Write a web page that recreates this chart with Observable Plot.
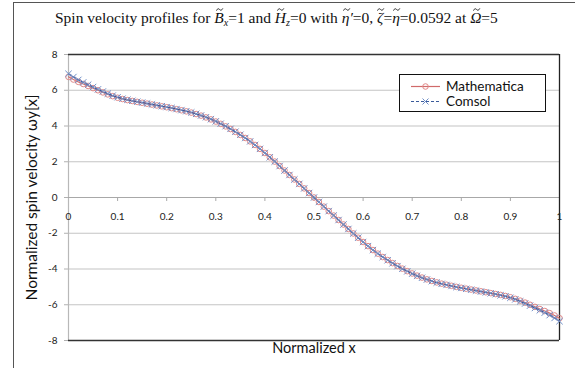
<!DOCTYPE html>
<html><head><meta charset="utf-8">
<script src="https://cdn.jsdelivr.net/npm/d3@7"></script>
<script src="https://cdn.jsdelivr.net/npm/@observablehq/plot@0.6"></script>
<style>
body{margin:0;background:#fff;}
#wrap{position:relative;width:575px;height:368px;overflow:hidden;font-family:Lato,"Open Sans",sans-serif;}
#frameL{position:absolute;left:13px;top:2px;width:600px;height:400px;border-left:1px solid #555;border-top:1px solid #555;}
#title{position:absolute;left:55px;top:9px;text-align:left;font-family:"Liberation Serif",serif;font-size:15.5px;color:#111;white-space:nowrap;}
#title i{font-style:italic;}
#title sub{font-size:10px;vertical-align:-3px;}
.acc{position:relative;display:inline-block;}
.acc svg{position:absolute;left:50%;margin-left:-3px;top:-1px;overflow:visible;}
#chart{position:absolute;left:0;top:0;}
#legend{position:absolute;left:399px;top:74px;width:145px;height:36px;border:1px solid #111;background:#fff;font-size:13.5px;color:#111;}
#legend > svg{position:absolute;left:0;top:0;}
#legend .t{position:absolute;left:46px;line-height:13px;}
</style></head>
<body>
<div id="wrap">
  <div id="frameL"></div>
  <div id="chart"></div>
  <div id="title">Spin velocity profiles for <i class="acc">B</i><sub><i>x</i></sub>=1 and <i class="acc">H</i><sub><i>z</i></sub>=0 with <i class="acc">η</i><i>′</i>=0, <i class="acc">ζ</i>=<i class="acc">η</i>=0.0592 at <i class="acc">Ω</i>=5</div>
  <div id="legend">
    <svg width="145" height="36">
      <line x1="11" x2="40" y1="11.5" y2="11.5" stroke="#d06a6a" stroke-width="1.2"/>
      <circle cx="25.5" cy="11.5" r="2.8" fill="none" stroke="#e08888"/>
      <line x1="11" x2="40" y1="26.5" y2="26.5" stroke="#3a5a9a" stroke-width="1.2" stroke-dasharray="3,2"/>
      <path d="M22.5,23.5L28.5,29.5M28.5,23.5L22.5,29.5" stroke="#6f8fc8"/>
    </svg>
    <div class="t" style="top:5px">Mathematica</div>
    <div class="t" style="top:20px">Comsol</div>
  </div>
</div>
<script>
// tilde accents drawn as small paths above letters
document.querySelectorAll("#title .acc").forEach(el => {
  const s = document.createElementNS("http://www.w3.org/2000/svg", "svg");
  s.setAttribute("width", "7"); s.setAttribute("height", "3");
  s.innerHTML = '<path d="M0.5,2.6C1.5,0.2 3,0.6 3.6,1.5C4.2,2.4 5.6,2.8 6.8,0.4" fill="none" stroke="#111" stroke-width="0.9"/>';
  el.appendChild(s);
});

const xGrid = d3.range(0, 101).map(i => i / 100);
const mathematica = [
  6.75, 6.60, 6.47, 6.35, 6.24, 6.12, 6.00, 5.88, 5.77, 5.67,
  5.58, 5.51, 5.45, 5.40, 5.35, 5.30, 5.25, 5.20, 5.15, 5.10,
  5.05, 5.00, 4.94, 4.88, 4.82, 4.75, 4.67, 4.58, 4.48, 4.37,
  4.25, 4.12, 3.98, 3.83, 3.67, 3.50, 3.33, 3.14, 2.94, 2.72,
  2.49, 2.25, 2.01, 1.76, 1.51, 1.26, 1.01, 0.76, 0.51, 0.25,
  0.00,
  -0.25, -0.51, -0.76, -1.01, -1.26, -1.51, -1.76, -2.01, -2.25, -2.49,
  -2.72, -2.94, -3.14, -3.33, -3.50, -3.67, -3.83, -3.98, -4.12, -4.25,
  -4.37, -4.48, -4.58, -4.67, -4.75, -4.82, -4.88, -4.94, -5.00, -5.05,
  -5.10, -5.15, -5.20, -5.25, -5.30, -5.35, -5.40, -5.45, -5.51, -5.58,
  -5.67, -5.77, -5.88, -6.00, -6.12, -6.24, -6.35, -6.47, -6.60, -6.75
];
const comsol = [
  6.92, 6.74, 6.58, 6.44, 6.31, 6.18, 6.05, 5.93, 5.81, 5.70,
  5.61, 5.53, 5.47, 5.41, 5.36, 5.31, 5.26, 5.21, 5.16, 5.11,
  5.06, 5.01, 4.95, 4.89, 4.83, 4.76, 4.68, 4.59, 4.49, 4.38,
  4.26, 4.13, 3.99, 3.84, 3.68, 3.51, 3.33, 3.14, 2.94, 2.72,
  2.49, 2.25, 2.01, 1.76, 1.51, 1.26, 1.01, 0.76, 0.51, 0.25,
  0.00,
  -0.25, -0.51, -0.76, -1.01, -1.26, -1.51, -1.76, -2.01, -2.25, -2.49,
  -2.72, -2.94, -3.14, -3.33, -3.51, -3.68, -3.84, -3.99, -4.13, -4.26,
  -4.38, -4.49, -4.59, -4.68, -4.76, -4.83, -4.89, -4.95, -5.01, -5.06,
  -5.11, -5.16, -5.21, -5.26, -5.31, -5.36, -5.41, -5.47, -5.53, -5.61,
  -5.70, -5.81, -5.93, -6.05, -6.18, -6.31, -6.44, -6.58, -6.74, -6.92
];
const xTicks = [0, 0.1, 0.2, 0.3, 0.4, 0.5, 0.6, 0.7, 0.8, 0.9, 1];
const yTicks = [-8, -6, -4, -2, 0, 2, 4, 6, 8];
const xLabel = "Normalized x";
const yLabel = "Normalized spin velocity ωy[x]";

const mData = xGrid.map((x, i) => ({x, y: mathematica[i]}));
const cData = xGrid.map((x, i) => ({x, y: comsol[i]}));

const chart = Plot.plot({
  width: 575, height: 368,
  marginLeft: 68, marginRight: 16, marginTop: 54, marginBottom: 28,
  x: {domain: [0, 1], axis: null},
  y: {domain: [-8, 8]},
  style: {fontFamily: "Lato, 'Open Sans', sans-serif", fontSize: "10px", color: "#222", background: "transparent"},
  marks: [
    Plot.ruleY(yTicks.filter(t => Math.abs(t) !== 8 && t !== 0), {stroke: "#c4c4c4", strokeWidth: 1.2}),
    Plot.axisY({ticks: yTicks, tickSize: 4, tickPadding: 7, stroke: "#b0b0b0", fill: "#222", label: null, tickFormat: d => String(d)}),
    Plot.ruleX([0], {stroke: "#b8b8b8", strokeWidth: 1.2}),
    Plot.ruleY([0], {stroke: "#a8a8a8", strokeWidth: 1.2}),
    Plot.ruleX(xTicks.slice(1, -1), {x: d => d, y1: 0, y2: 0, insetBottom: -4, stroke: "#a8a8a8"}),
    Plot.text(xTicks, {x: d => d, y: 0, text: d => String(d), dy: 19, fill: "#222"}),
    Plot.ruleY([8, -8], {stroke: "#333", strokeWidth: 1.3}),
    Plot.ruleX([1], {stroke: "#222", strokeWidth: 1.3}),
    Plot.text([yLabel], {frameAnchor: "middle", x: () => 0, rotate: -90, textAnchor: "middle", dx: -36, fontSize: 15.5, fill: "#111"}),
    Plot.text([xLabel], {frameAnchor: "bottom", dy: 12, fontSize: 14.5, fill: "#111"}),
    Plot.line(mData, {x: "x", y: "y", stroke: "#d06a6a", strokeWidth: 1.2}),
    Plot.dot(mData, {x: "x", y: "y", r: 2.8, stroke: "#e08888", fill: "none", strokeWidth: 1}),
    Plot.line(cData, {x: "x", y: "y", stroke: "#3a5a9a", strokeWidth: 1.2, strokeDasharray: "3,2"}),
    Plot.dot(cData, {x: "x", y: "y", symbol: "times", r: 3, stroke: "#6f8fc8", strokeWidth: 1})
  ]
});
document.getElementById("chart").appendChild(chart);
</script>
</body></html>
